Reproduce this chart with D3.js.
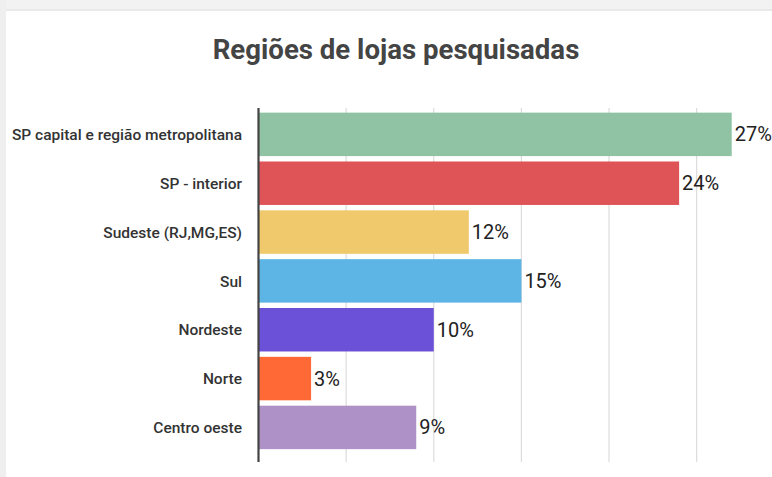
<!DOCTYPE html>
<html>
<head>
<meta charset="utf-8">
<script src="https://cdn.jsdelivr.net/npm/d3@7"></script>
<style>
  html, body { margin: 0; padding: 0; background: #fff; }
  svg { display: block; }
</style>
</head>
<body>
<svg id="chart" width="772" height="477"></svg>
<script>
// Survey data: share of stores by region (%)
const categories = [
  "SP capital e região metropolitana",
  "SP - interior",
  "Sudeste (RJ,MG,ES)",
  "Sul",
  "Nordeste",
  "Norte",
  "Centro oeste"
];
const values = [27, 24, 12, 15, 10, 3, 9];
const barColors = ["#8fc3a4", "#de5457", "#efc96b", "#5db5e5", "#6b50d8", "#ff6936", "#ae91c7"];
const gridTicks = [5, 10, 15, 20, 25];
const title = "Regiões de lojas pesquisadas";

const svg = d3.select("#chart");
const W = 772, H = 477;

// page frame: light grey top band and left strip
svg.append("rect").attr("x", 0).attr("y", 0).attr("width", W).attr("height", H).attr("fill", "#fff");
svg.append("rect").attr("x", 0).attr("y", 0).attr("width", W).attr("height", 11).attr("fill", "#f2f2f2");
svg.append("rect").attr("x", 0).attr("y", 9).attr("width", W).attr("height", 2).attr("fill", "#e9e9e9");
svg.append("rect").attr("x", 0).attr("y", 0).attr("width", 6).attr("height", H).attr("fill", "#efefef");

// title
svg.append("text")
  .attr("x", 396).attr("y", 59)
  .attr("text-anchor", "middle")
  .attr("font-family", "Roboto, sans-serif")
  .attr("font-weight", 700)
  .attr("font-size", 27.6)
  .attr("fill", "#444")
  .text(title);

const x0 = 258.5;
const x = d3.scaleLinear().domain([0, 27]).range([x0, 731.7]);
const y = d3.scaleBand().domain(categories).range([110.2, 451.6]).paddingInner(0.11).paddingOuter(0.05);

const gridTop = 108, gridBottom = 462;

// vertical gridlines
svg.append("g").selectAll("line").data(gridTicks).join("line")
  .attr("x1", d => x(d)).attr("x2", d => x(d))
  .attr("y1", gridTop).attr("y2", gridBottom)
  .attr("stroke", "#dcdcdc").attr("stroke-width", 1.2);

// bars
svg.append("g").selectAll("rect").data(values).join("rect")
  .attr("x", x(0))
  .attr("y", (d, i) => y(categories[i]))
  .attr("width", d => x(d) - x(0))
  .attr("height", y.bandwidth())
  .attr("fill", (d, i) => barColors[i]);

// value labels
svg.append("g").selectAll("text").data(values).join("text")
  .attr("x", d => x(d) + 3)
  .attr("y", (d, i) => y(categories[i]) + y.bandwidth() / 2 + 7)
  .attr("font-family", "Roboto, sans-serif")
  .attr("font-size", 20)
  .attr("fill", "#222")
  .text(d => d + "%");

// category labels
svg.append("g").selectAll("text").data(categories).join("text")
  .attr("x", 242)
  .attr("y", d => y(d) + y.bandwidth() / 2 + 5.6)
  .attr("text-anchor", "end")
  .attr("font-family", "Roboto, sans-serif")
  .attr("font-weight", 500)
  .attr("font-size", 15.5)
  .attr("fill", "#333")
  .text(d => d);

// baseline axis
svg.append("line")
  .attr("x1", x(0)).attr("x2", x(0))
  .attr("y1", gridTop).attr("y2", gridBottom)
  .attr("stroke", "#444").attr("stroke-width", 2.2);
</script>
</body>
</html>
